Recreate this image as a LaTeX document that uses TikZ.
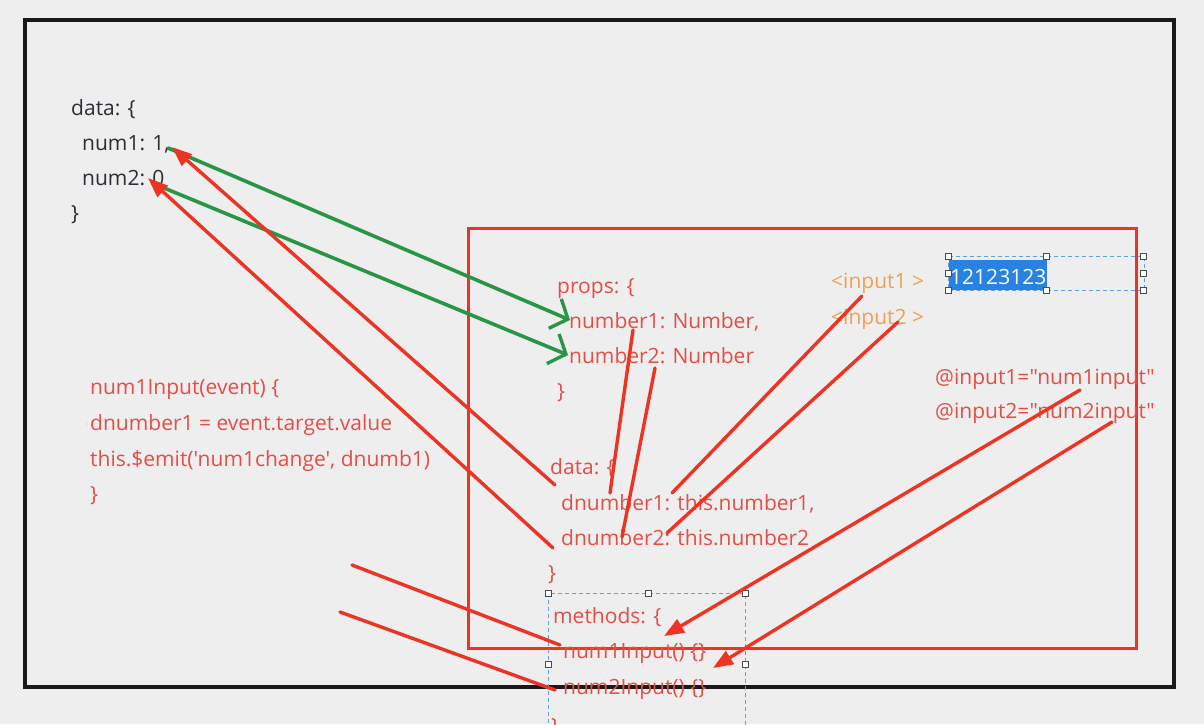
\documentclass[tikz,border=0pt]{standalone}
\usepackage{fontspec}
\newfontfamily\codefont{Open Sans}
\usetikzlibrary{arrows.meta}
\definecolor{bg}{RGB}{238,238,238}
\definecolor{codeblack}{RGB}{45,45,55}
\definecolor{codered}{RGB}{228,78,70}
\definecolor{penred}{RGB}{236,52,36}
\definecolor{pengreen}{RGB}{40,150,70}
\definecolor{codeorange}{RGB}{240,160,80}
\definecolor{selblue}{RGB}{40,130,225}
\definecolor{dashblue}{RGB}{100,160,225}
\tikzset{
  code/.style={anchor=base west,inner sep=0pt,font=\codefont\fontsize{21}{25}\selectfont},
  blackcode/.style={code,text=codeblack},
  redcode/.style={code,text=codered},
  orangecode/.style={code,text=codeorange},
  redline/.style={draw=penred,line width=3.4pt,line cap=round},
  redarrow/.style={redline,-{Triangle[length=20pt,width=15pt]}},
  greenarrow/.style={draw=pengreen,line width=3.6pt,line cap=round,-{Straight Barb[length=14pt,width=32pt,line width=3.4pt]}},
  handle/.style={draw=black!70,fill=white,line width=0.8pt,minimum size=6pt,inner sep=0pt,rectangle},
  seldash/.style={draw=dashblue,line width=1pt,dash pattern=on 4pt off 3pt}
}
\begin{document}
\begin{tikzpicture}[x=1pt,y=-1pt]
\fill[bg] (0,0) rectangle (1204,724);
\useasboundingbox (0,0) rectangle (1204,724);
\clip (0,0) rectangle (1204,724);
% frames
\draw[line width=3.6pt,draw=black!90] (25,20) rectangle (1174,687);
\draw[line width=3pt,draw=penred] (468,228) rectangle (1136,648);
% black code
\node[blackcode] (d0) at (71,115) {data: \{};
\node[blackcode] (d1) at (82,150) {num1: 1,};
\node[blackcode] (d2) at (82,185) {num2: 0};
\node[blackcode] (d3) at (71,220) {\}};
% red left code
\node[redcode] (m0) at (90,394) {num1Input(event) \{};
\node[redcode] (m1) at (90,430) {dnumber1 = event.target.value};
\node[redcode] (m2) at (90,466) {this.\$emit('num1change', dnumb1)};
\node[redcode] (m3) at (90,501) {\}};
% props
\node[redcode] (p0) at (557,293) {props: \{};
\node[redcode] (p1) at (569,328) {number1: Number,};
\node[redcode] (p2) at (569,363) {number2: Number};
\node[redcode] (p3) at (557,398) {\}};
% data
\node[redcode] (q0) at (550,474) {data: \{};
\node[redcode] (q1) at (561,510) {dnumber1: this.number1,};
\node[redcode] (q2) at (561,545) {dnumber2: this.number2};
\node[redcode] (q3) at (548,580) {\}};
% methods
\node[redcode] (r0) at (553,623) {methods: \{};
\node[redcode] (r1) at (563,658) {num1Input() \{\}};
\node[redcode] (r2) at (563,694) {num2Input() \{\}};
\node[redcode] (r3) at (551,733) {\}};
% inputs
\node[orangecode] (i1) at (831,288) {<input1 >};
\node[orangecode] (i2) at (831,324) {<input2 >};
\node[redcode] (e1) at (935,384) {@input1="num1input"};
\node[redcode] (e2) at (935,418) {@input2="num2input"};
% selected input box
\fill[selblue] (949,260) rectangle (1047,290);
\node[code,text=white,anchor=base west] (sel) at (950,284) {12123123};
\draw[seldash] (948,256) rectangle (1144,290);
\foreach \p/\n in {{948,256}/h1,{1046,256}/h2,{1143,256}/h3,{948,273}/h4,{1143,273}/h5,{948,290}/h6,{1046,290}/h7,{1143,290}/h8}
  \node[handle] (\n) at (\p) {};
% methods selection box
\draw[seldash] (548,730) -- (548,593) -- (745,593) -- (745,730);
\foreach \p/\n in {{548,593}/k1,{648,593}/k2,{745,593}/k3,{548,664}/k4,{745,664}/k5}
  \node[handle] (\n) at (\p) {};
% coordinates for strokes
\coordinate (g1s) at (168,148);
\coordinate (g1e) at (570,320);
\coordinate (g2s) at (152,183);
\coordinate (g2e) at (568,355);
\coordinate (a1s) at (555,485);
\coordinate (a1e) at (172,147);
\coordinate (a2s) at (553,548);
\coordinate (a2e) at (148,178);
\coordinate (a3s) at (1080,390);
\coordinate (a3e) at (664,636);
\coordinate (a4s) at (1112,422);
\coordinate (a4e) at (713,668);
% green arrows
\draw[greenarrow] (g1s) -- (g1e);
\draw[greenarrow] (g2s) -- (g2e);
% red arrows
\draw[redarrow] (a1s) -- (a1e);
\draw[redarrow] (a2s) -- (a2e);
\draw[redarrow] (a3s) -- (a3e);
\draw[redarrow] (a4s) -- (a4e);
% red plain lines
\coordinate (l1s) at (633,330); \coordinate (l1e) at (610,493);
\coordinate (l2s) at (655,368); \coordinate (l2e) at (622,537);
\coordinate (l3s) at (862,296); \coordinate (l3e) at (672,493);
\coordinate (l4s) at (898,322); \coordinate (l4e) at (667,533);
\coordinate (l5s) at (352,565); \coordinate (l5e) at (560,645);
\coordinate (l6s) at (340,612); \coordinate (l6e) at (555,690);
\draw[redline] (l1s) -- (l1e);
\draw[redline] (l2s) -- (l2e);
\draw[redline] (l3s) -- (l3e);
\draw[redline] (l4s) -- (l4e);
\draw[redline] (l5s) -- (l5e);
\draw[redline] (l6s) -- (l6e);
\end{tikzpicture}
\end{document}
